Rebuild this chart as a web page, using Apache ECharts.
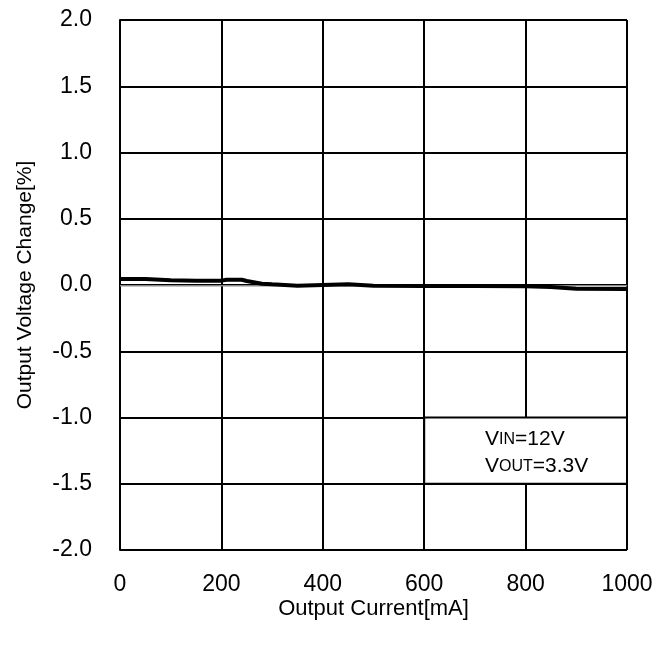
<!DOCTYPE html>
<html>
<head>
<meta charset="utf-8">
<script src="https://cdn.jsdelivr.net/npm/echarts@6/dist/echarts.min.js"></script>
<style>
  html, body { margin: 0; padding: 0; background: #fff; }
  #chart { width: 670px; height: 648px; }
</style>
</head>
<body>
<div id="chart"></div>
<script>
// 测量数据
var currentMain = [0, 50, 100, 150, 200, 210, 240, 250, 280, 300, 350, 400, 450, 500, 600, 700, 800, 850, 900, 1000];
var changeMain = [0.045, 0.045, 0.035, 0.033, 0.033, 0.04, 0.04, 0.03, 0.01, 0.005, -0.005, 0.0, 0.005, -0.005, -0.008, -0.008, -0.01, -0.015, -0.028, -0.03];
var currentRef = [0, 300, 1000];
var changeRef = [-0.005, -0.005, -0.005];
var yTicks = [-2.0, -1.5, -1.0, -0.5, 0.0, 0.5, 1.0, 1.5, 2.0];
var xTicks = [0, 200, 400, 600, 800, 1000];

var font = 'Liberation Sans, Arial, sans-serif';

var chart = echarts.init(document.getElementById('chart'));
chart.setOption({
  animation: false,
  grid: { left: 120, top: 20, right: 43, bottom: 98, outerBoundsMode: 'none', containLabel: false },
  xAxis: {
    type: 'value',
    min: xTicks[0],
    max: xTicks[xTicks.length - 1],
    interval: 200,
    name: 'Output Current[mA]',
    nameLocation: 'middle',
    nameGap: 48,
    nameMoveOverlap: false,
    nameTextStyle: { color: '#000', fontSize: 22, fontFamily: font },
    axisLine: { lineStyle: { color: '#000', width: 2 } },
    axisTick: { show: false },
    splitLine: { lineStyle: { color: '#000', width: 2 } },
    axisLabel: {
      color: '#000', fontSize: 23, fontFamily: font, margin: 23,
      formatter: function (v) { return String(v); }
    }
  },
  yAxis: {
    type: 'value',
    min: yTicks[0],
    max: yTicks[yTicks.length - 1],
    interval: 0.5,
    name: 'Output Voltage Change[%]',
    nameLocation: 'middle',
    nameGap: 84,
    nameMoveOverlap: false,
    nameTextStyle: { color: '#000', fontSize: 21, fontFamily: font },
    axisLine: { show: true, onZero: false, lineStyle: { color: '#000', width: 2 } },
    axisTick: { show: false },
    splitLine: { lineStyle: { color: '#000', width: 2 } },
    axisLabel: {
      color: '#000', fontSize: 23, fontFamily: font, margin: 28,
      formatter: function (v) { return v.toFixed(1); }
    }
  },
  series: [
    {
      type: 'line',
      data: currentRef.map(function (x, i) { return [x, changeRef[i]]; }),
      showSymbol: false,
      lineStyle: { color: '#888', width: 1.5 },
      z: 3,
      markArea: {
        silent: true,
        itemStyle: { color: '#fff', borderColor: '#000', borderWidth: 2 },
        label: { show: false },
        data: [[{ coord: [600, -1.0] }, { coord: [1000, -1.5] }]]
      }
    },
    {
      type: 'line',
      data: currentMain.map(function (x, i) { return [x, changeMain[i]]; }),
      showSymbol: false,
      lineStyle: { color: '#000', width: 4 },
      z: 4
    }
  ],
  graphic: [
    {
      type: 'text',
      left: 485,
      top: 429,
      z: 100,
      style: {
        text: '{b|V}{s|IN}{b|=12V}\n{b|V}{s|OUT}{b|=3.3V}',
        rich: {
          b: { fontSize: 21, fontFamily: font, fill: '#000', lineHeight: 27 },
          s: { fontSize: 16, fontFamily: font, fill: '#000', lineHeight: 27 }
        }
      }
    }
  ]
});
</script>
</body>
</html>
